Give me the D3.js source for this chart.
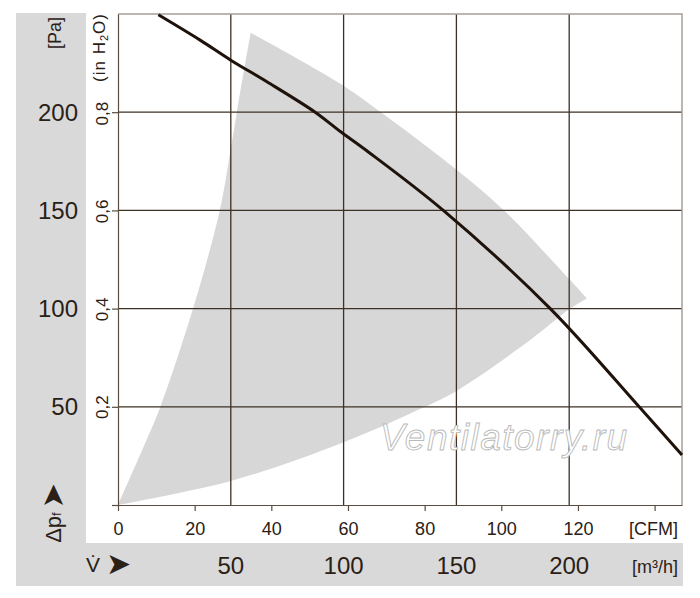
<!DOCTYPE html>
<html>
<head>
<meta charset="utf-8">
<script src="https://cdn.jsdelivr.net/npm/d3@7"></script>
<style>
  body { margin: 0; background: #fff; }
  .chart-text { font-family: "Liberation Sans", Arial, sans-serif; fill: #2a2016; }
  .axis path, .axis line { stroke: #5a4c3e; stroke-width: 1.2; }
  .axis text { font-family: "Liberation Sans", Arial, sans-serif; font-size: 18px; fill: #2a2016; }
</style>
</head>
<body>
<div id="chart-area"></div>
<script>
// ticks
const flowTicksM3h = [50, 100, 150, 200];
const flowTicksCfm = [0, 20, 40, 60, 80, 100, 120, 140];
const pressureTicksPa = [0, 50, 100, 150, 200];
const pressureTicksInH2O = [0.2, 0.4, 0.6, 0.8];

// fan curve, flow in m3/h, pressure in Pa
const curveFlow     = [17.9, 36.4, 50, 66, 87.4, 98.4, 110, 144.2, 191.6, 231, 250];
const curvePressure = [249.6, 236.7, 226.5, 215.5, 200, 190.3, 180.6, 150, 100, 50, 25.5];

// grey operating range, three edges going round
const regionLeftFlow       = [0, 12.7, 18.8, 33.4, 45.2, 49.9, 52.7, 58.8];
const regionLeftPressure   = [0, 33.2, 50, 100.5, 150.5, 180.6, 200, 240.5];
const regionTopFlow        = [58.8, 98.4, 116.2, 150.2, 170.9, 200.4, 207.8];
const regionTopPressure    = [240.5, 214.6, 200.2, 170.6, 150.2, 114.5, 105.2];
const regionBottomFlow     = [207.8, 200.4, 182.7, 150.2, 135.3, 99.8, 50, 0];
const regionBottomPressure = [105.2, 100, 84, 58.2, 49.6, 31.8, 12.2, 0];

const chart = {
  totalWidth: 700,
  totalHeight: 598,

  plotLeft: 118,
  plotRight: 682,
  plotTop: 14,
  plotBottom: 505,

  maxFlow: 250,
  maxPressure: 250,
  m3hPerCfm: 1.699,
  paPerInH2O: 249.09,

  svg: undefined,
  x: undefined,
  xCfm: undefined,
  y: undefined,
  yInH2O: undefined,

  setupScales: function() {
    this.x = d3.scaleLinear()
      .domain([0, this.maxFlow])
      .range([this.plotLeft, this.plotRight]);
    this.xCfm = d3.scaleLinear()
      .domain([0, this.maxFlow / this.m3hPerCfm])
      .range([this.plotLeft, this.plotRight]);
    this.y = d3.scaleLinear()
      .domain([0, this.maxPressure])
      .range([this.plotBottom, this.plotTop]);
    this.yInH2O = d3.scaleLinear()
      .domain([0, this.maxPressure / this.paPerInH2O])
      .range([this.plotBottom, this.plotTop]);
  },

  setupBackground: function() {
    this.svg = d3.select("#chart-area")
      .append("svg")
        .attr("width", this.totalWidth)
        .attr("height", this.totalHeight);

    // grey frame left and below, white plot panel on top
    this.svg.append("rect")
      .attr("x", 16).attr("y", 13)
      .attr("width", 667).attr("height", 573)
      .attr("fill", "#d9d9d9");
    this.svg.append("rect")
      .attr("x", 86).attr("y", 13)
      .attr("width", 597).attr("height", 530)
      .attr("fill", "#fff");
  },

  addRegion: function() {
    const line = d3.line()
      .x(d => this.x(d[0]))
      .y(d => this.y(d[1]))
      .curve(d3.curveCatmullRom);

    const left   = line(d3.zip(regionLeftFlow, regionLeftPressure));
    const top    = line(d3.zip(regionTopFlow, regionTopPressure)).replace(/^M/, "L");
    const bottom = line(d3.zip(regionBottomFlow, regionBottomPressure)).replace(/^M/, "L");

    this.svg.append("path")
      .attr("d", left + top + bottom + "Z")
      .attr("fill", "#d7d7d7");
  },

  addGrid: function() {
    this.svg.append("g").selectAll("line")
      .data(pressureTicksPa.filter(d => d > 0))
      .enter().append("line")
        .attr("x1", this.plotLeft).attr("x2", this.plotRight)
        .attr("y1", d => this.y(d)).attr("y2", d => this.y(d))
        .attr("stroke", "#3d3024")
        .attr("stroke-width", 1.3);

    this.svg.append("g").selectAll("line")
      .data(flowTicksM3h)
      .enter().append("line")
        .attr("x1", d => this.x(d)).attr("x2", d => this.x(d))
        .attr("y1", this.plotTop).attr("y2", this.plotBottom)
        .attr("stroke", "#3d3024")
        .attr("stroke-width", 1.3);

    // top and right border
    this.svg.append("path")
      .attr("d", "M" + this.plotLeft + "," + this.plotTop + "H" + this.plotRight + "V" + this.plotBottom)
      .attr("fill", "none")
      .attr("stroke", "#a59f96")
      .attr("stroke-width", 1.5);
  },

  addAxis: function() {
    const xAxisCall = d3.axisBottom(this.xCfm)
      .tickValues(flowTicksCfm)
      .tickSize(6)
      .tickSizeOuter(0)
      .tickPadding(11)
      .tickFormat(d => d === 140 ? "" : d);
    this.svg.append("g")
      .attr("class", "x axis")
      .attr("transform", "translate(0," + this.plotBottom + ")")
      .call(xAxisCall);

    const yAxisCall = d3.axisLeft(this.y)
      .tickValues(pressureTicksPa)
      .tickSize(6)
      .tickSizeOuter(0)
      .tickFormat("");
    this.svg.append("g")
      .attr("class", "y axis")
      .attr("transform", "translate(" + this.plotLeft + ",0)")
      .call(yAxisCall);
    this.svg.select(".y.axis path").attr("stroke", "#3d3024");
  },

  addCurve: function() {
    const line = d3.line()
      .x(d => this.x(d[0]))
      .y(d => this.y(d[1]))
      .curve(d3.curveCatmullRom.alpha(0.5));

    this.svg.append("path")
      .attr("d", line(d3.zip(curveFlow, curvePressure)))
      .attr("fill", "none")
      .attr("stroke", "#1e120a")
      .attr("stroke-width", 3);
  },

  addWatermark: function() {
    this.svg.append("text")
      .attr("x", 380)
      .attr("y", 450)
      .attr("font-family", "'Liberation Sans', Arial, sans-serif")
      .attr("font-style", "italic")
      .attr("font-size", "37px")
      .attr("letter-spacing", "1.5px")
      .attr("fill", "#fff")
      .attr("stroke", "#b9b9b9")
      .attr("stroke-width", 0.9)
      .text("Ventilatorry.ru");
  },

  addLabels: function() {
    // Pa labels
    this.svg.append("g").selectAll("text")
      .data(pressureTicksPa.filter(d => d > 0))
      .enter().append("text")
        .attr("class", "chart-text")
        .attr("x", 78)
        .attr("y", d => this.y(d))
        .attr("dy", "0.36em")
        .attr("font-size", "24px")
        .attr("text-anchor", "end")
        .text(d => d);

    // in H2O labels
    this.svg.append("g").selectAll("text")
      .data(pressureTicksInH2O)
      .enter().append("text")
        .attr("class", "chart-text")
        .attr("transform", d => "translate(108," + this.yInH2O(d) + ") rotate(-90)")
        .attr("font-size", "17px")
        .attr("text-anchor", "middle")
        .text(d => d3.format(".1f")(d).replace(".", ","));

    // m3/h labels
    this.svg.append("g").selectAll("text")
      .data(flowTicksM3h)
      .enter().append("text")
        .attr("class", "chart-text")
        .attr("x", d => this.x(d))
        .attr("y", 574)
        .attr("font-size", "24px")
        .attr("text-anchor", "middle")
        .text(d => d);

    this.svg.append("text")
      .attr("class", "chart-text")
      .attr("transform", "translate(61,33) rotate(-90)")
      .attr("font-size", "18px")
      .attr("text-anchor", "middle")
      .text("[Pa]");

    const inH2O = this.svg.append("text")
      .attr("class", "chart-text")
      .attr("transform", "translate(104.5,47.5) rotate(-90)")
      .attr("font-size", "17px")
      .attr("letter-spacing", "1px")
      .attr("text-anchor", "middle");
    inH2O.append("tspan").text("(in H");
    inH2O.append("tspan").attr("font-size", "11px").attr("dy", "3").text("2");
    inH2O.append("tspan").attr("dy", "-3").text("O)");

    const dp = this.svg.append("text")
      .attr("class", "chart-text")
      .attr("transform", "translate(61,513) rotate(-90)")
      .attr("font-size", "22px")
      .attr("text-anchor", "middle");
    dp.append("tspan").text("\u0394p");
    dp.append("tspan").attr("font-size", "13px").text("f");
    dp.append("tspan")
      .attr("font-family", "'DejaVu Sans', sans-serif")
      .attr("font-size", "30px")
      .attr("dy", "2")
      .attr("dx", "4")
      .text("\u27A4");

    const v = this.svg.append("text")
      .attr("class", "chart-text")
      .attr("x", 86)
      .attr("y", 572)
      .attr("font-size", "21px");
    v.append("tspan").text("V\u0307");
    v.append("tspan")
      .attr("font-family", "'DejaVu Sans', sans-serif")
      .attr("font-size", "30px")
      .attr("dy", "2")
      .attr("dx", "6")
      .text("\u27A4");

    this.svg.append("text")
      .attr("class", "chart-text")
      .attr("x", 678)
      .attr("y", 535)
      .attr("font-size", "18px")
      .attr("text-anchor", "end")
      .text("[CFM]");

    this.svg.append("text")
      .attr("class", "chart-text")
      .attr("x", 678)
      .attr("y", 573)
      .attr("font-size", "18px")
      .attr("text-anchor", "end")
      .text("[m\u00B3/h]");
  },

  start: function() {
    this.setupScales();
    this.setupBackground();
    this.addRegion();
    this.addGrid();
    this.addAxis();
    this.addCurve();
    this.addWatermark();
    this.addLabels();
  }
};

chart.start();
</script>
</body>
</html>
